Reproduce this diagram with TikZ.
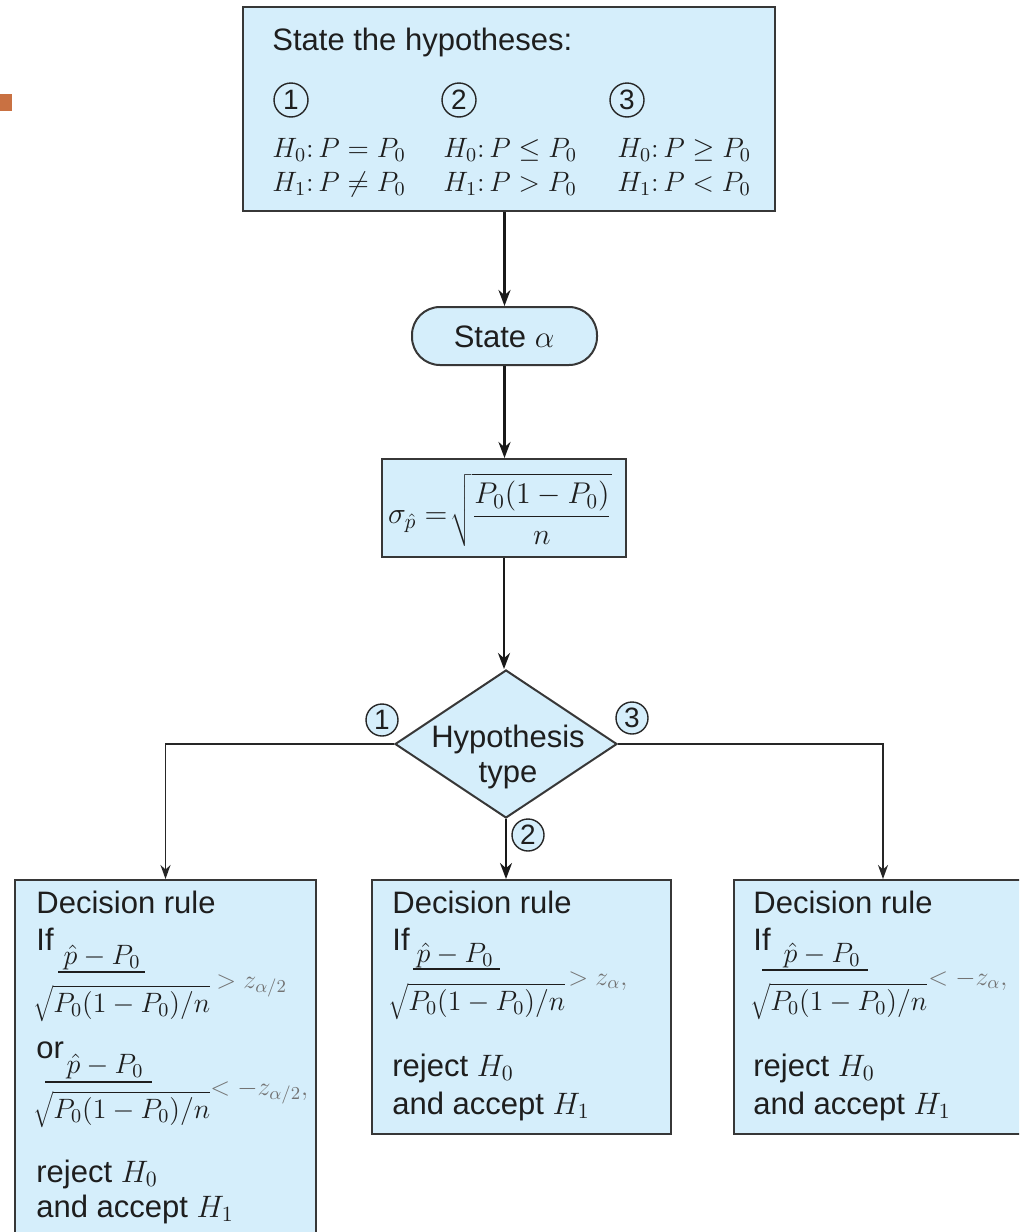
\documentclass[tikz,border=0pt]{standalone}
\usepackage{fix-cm}
\usepackage[no-math]{fontspec}
\setmainfont{Liberation Sans}
\usetikzlibrary{shapes.geometric,arrows.meta}
\definecolor{boxfill}{RGB}{213,238,251}
\definecolor{boxline}{RGB}{55,55,55}
\definecolor{txtc}{RGB}{30,30,30}
\definecolor{orng}{RGB}{201,113,66}
\newcommand\myfs[1]{\fontsize{#1}{#1}\selectfont}
\begin{document}
\begin{tikzpicture}[x=0.5pt,y=-0.5pt,
  box/.style={draw=boxline, fill=boxfill, line width=1pt, inner sep=0pt},
  lbl/.style={anchor=base west, inner sep=0pt, text=txtc, font=\myfs{15.5}},
  mth/.style={anchor=base, inner sep=0pt, text=txtc, font=\myfs{14}},
  rel/.style={anchor=base west, inner sep=0pt, text=black!55, font=\myfs{13}},
  fbar/.style={draw=txtc, line width=1.3pt},
  mainarrow/.style={draw=black!90, line width=1.4pt, -{Stealth[length=8pt,width=6pt]}},
  sidearrow/.style={draw=black!85, line width=0.9pt, -{Stealth[length=7pt,width=5pt]}},
  num/.style={circle, draw=black!85, line width=0.7pt, inner sep=0pt, minimum size=16pt, font=\myfs{14}, text=txtc}]
\useasboundingbox (0,0) rectangle (1019,1232);
\clip (0,0) rectangle (1019,1232);
\fill[white] (0,0) rectangle (1019,1232);
\fill[orng] (0,94) rectangle (12,111);

% top box
\node[box, minimum width=266pt, minimum height=102pt] (hyp) at (509,109) {};
\node[lbl] (hypt) at (272,50) {State the hypotheses:};
\node[num, minimum size=17pt] (c1) at (291,100) {1};
\node[num, minimum size=17pt] (c2) at (459,100) {2};
\node[num, minimum size=17pt] (c3) at (627,100) {3};
\node[mth, anchor=base west] (h01) at (272,157) {$H_0\colon P = P_0$};
\node[mth, anchor=base west] (h11) at (272,191) {$H_1\colon P \neq P_0$};
\node[mth, anchor=base west] (h02) at (443,157) {$H_0\colon P \leq P_0$};
\node[mth, anchor=base west] (h12) at (443,191) {$H_1\colon P > P_0$};
\node[mth, anchor=base west] (h03) at (617,157) {$H_0\colon P \geq P_0$};
\node[mth, anchor=base west] (h13) at (617,191) {$H_1\colon P < P_0$};

% state alpha
\node[box, rounded corners=14pt, minimum width=92.5pt, minimum height=29pt] (sa) at (504.5,336) {};
\node[lbl, anchor=base] (sat) at (504,347) {State $\alpha$};

% sigma box
\node[box, minimum width=122pt, minimum height=49pt] (sig) at (504,508) {};
\node[inner sep=0pt, text=txtc, font=\myfs{15}] (sigt) at (500,510) {$\displaystyle\sigma_{\hat{p}} =\!\sqrt{\frac{P_0(1-P_0)}{n}}$};

% diamond
\node[diamond, box, minimum width=111pt, minimum height=74pt] (dia) at (506,744) {};
\node[lbl, anchor=base] (dt1) at (508,747) {Hypothesis};
\node[lbl, anchor=base] (dt2) at (508,782) {type};

% decision boxes
\node[box, minimum width=150.5pt, minimum height=185pt] (lb) at (165.5,1065) {};
\node[box, minimum width=149.5pt, minimum height=127pt] (mb) at (521.5,1007) {};
\node[box, minimum width=149pt, minimum height=127pt] (rb) at (883,1007) {};

% connectors
\draw[mainarrow] (hyp.south -| sa.north) -- (sa.north);
\draw[mainarrow] (sa.south) -- (sa.south |- sig.north);
\draw[mainarrow] (sig.south) -- (sig.south |- dia.north);
\draw[sidearrow] (dia.west) -| (lb.north);
\draw[sidearrow] (dia.east) -| (rb.north);
\draw[mainarrow, line width=1.2pt] (dia.south) -- (dia.south |- mb.north);

% branch numbers
\node[num, fill=boxfill] (b1) at (382,720) {1};
\node[num, fill=boxfill] (b3) at (632,718) {3};
\node[num, fill=boxfill] (b2) at (528,835) {2};

% left decision box
\node[lbl] (l1) at (36,913) {Decision rule};
\node[lbl] (l2) at (36,950) {If};
\node[mth] (lnum1) at (102,964) {$\hat{p} - P_0$};
\draw[fbar] (58,972) -- (145,972);
\node[mth, anchor=base west] (lden1) at (33,1012) {$\sqrt{P_0(1-P_0)/n}$};
\node[rel] (lrel1) at (216,988) {$>z_{\alpha/2}$};
\node[lbl] (l3) at (36,1058) {or};
\node[mth] (lnum2) at (105,1073) {$\hat{p} - P_0$};
\draw[fbar] (45,1082) -- (152,1082);
\node[mth, anchor=base west] (lden2) at (33,1118) {$\sqrt{P_0(1-P_0)/n}$};
\node[rel] (lrel2) at (210,1095) {$<-z_{\alpha/2},$};
\node[lbl] (l4) at (36,1182) {reject $H_0$};
\node[lbl] (l5) at (36,1217) {and accept $H_1$};

% middle decision box
\node[lbl] (m1) at (392,913) {Decision rule};
\node[lbl] (m2) at (392,950) {If};
\node[mth] (mnum) at (455,962) {$\hat{p} - P_0$};
\draw[fbar] (413,969) -- (500,969);
\node[mth, anchor=base west] (mden) at (388,1010) {$\sqrt{P_0(1-P_0)/n}$};
\node[rel] (mrel) at (568,985) {$>z_{\alpha},$};
\node[lbl] (m4) at (392,1076) {reject $H_0$};
\node[lbl] (m5) at (392,1114) {and accept $H_1$};

% right decision box
\node[lbl] (r1) at (753,913) {Decision rule};
\node[lbl] (r2) at (753,950) {If};
\node[mth] (rnum) at (822,962) {$\hat{p} - P_0$};
\draw[fbar] (762,970) -- (868,970);
\node[mth, anchor=base west] (rden) at (750,1010) {$\sqrt{P_0(1-P_0)/n}$};
\node[rel] (rrel) at (928,985) {$<-z_{\alpha},$};
\node[lbl] (r4) at (753,1076) {reject $H_0$};
\node[lbl] (r5) at (753,1114) {and accept $H_1$};
\end{tikzpicture}
\end{document}
